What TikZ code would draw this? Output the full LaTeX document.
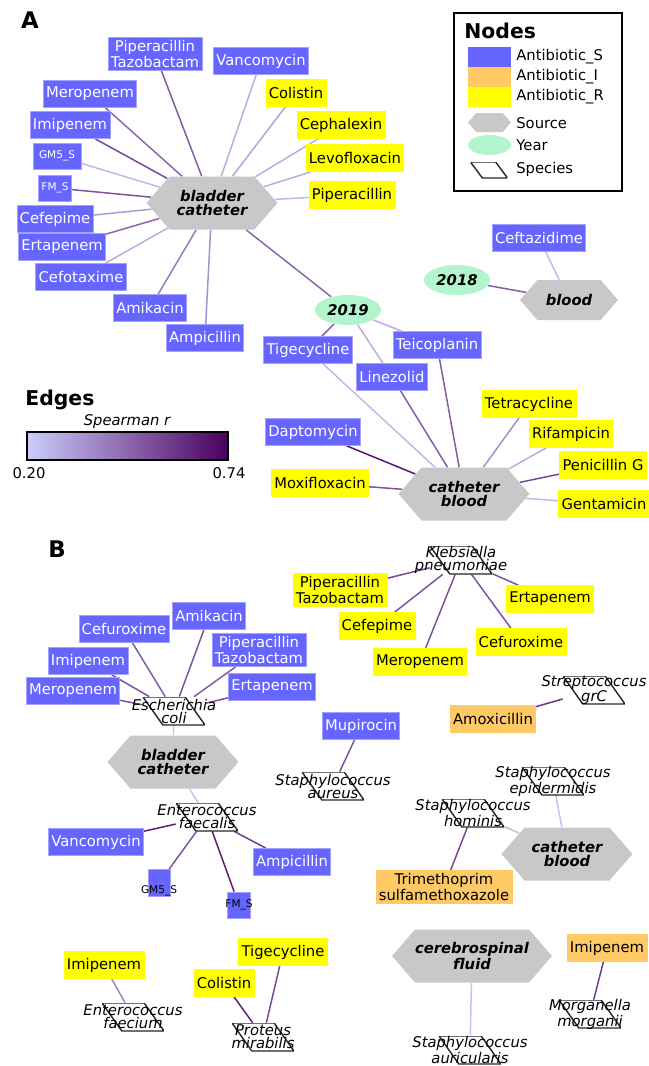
\documentclass[tikz,border=0pt]{standalone}
\usepackage{fontspec}
\setmainfont{DejaVu Sans}[ItalicFont={DejaVu Sans Oblique}, BoldItalicFont={DejaVu Sans Bold Oblique}]
\usepackage{tikz}
\usepackage{xcolor}
\usetikzlibrary{shapes.geometric, shapes.symbols, positioning, calc, backgrounds}
\definecolor{cSus}{RGB}{102,102,255}
\definecolor{cInt}{RGB}{255,201,102}
\definecolor{cRes}{RGB}{255,255,0}
\definecolor{cSrc}{RGB}{200,200,200}
\definecolor{cYear}{RGB}{178,245,204}
\definecolor{cLow}{RGB}{204,204,250}
\definecolor{cHigh}{RGB}{74,0,94}
\tikzset{
	abS/.style    ={rectangle, draw=cSus!60!white, line width=0.4pt, fill=cSus, text=white, minimum height=0.54cm, inner xsep=1.6pt, inner ysep=1.5pt, align=center, font=\fontsize{8.4}{7.4}\selectfont},
	abR/.style    ={abS, draw=cRes, fill=cRes, text=black},
	abI/.style    ={abS, draw=cInt, fill=cInt, text=black},
	abTiny/.style ={abS, minimum height=0.52cm, font=\fontsize{6}{6}\selectfont},
	src/.style    ={signal, signal to=east and west, signal pointer angle=98, fill=cSrc, minimum width=2.62cm, minimum height=1.06cm, inner sep=0pt, align=center, font=\bfseries\itshape\fontsize{8.4}{8}\selectfont},
	yr/.style     ={ellipse, fill=cYear, minimum width=1.32cm, minimum height=0.6cm, inner sep=0pt, font=\bfseries\itshape\fontsize{8.4}{8}\selectfont},
	% species: slanted box drawn inside a plain node
	spec/.style   ={rectangle, minimum width=1.24cm, minimum height=0.56cm, inner sep=0pt,
		path picture={\draw[draw=black!85, fill=white, line width=0.8pt]
			(path picture bounding box.north west)
			-- ($(path picture bounding box.north west)!0.68!(path picture bounding box.north east)$)
			-- (path picture bounding box.south east)
			-- ($(path picture bounding box.south west)!0.32!(path picture bounding box.south east)$) -- cycle;}},
	sptext/.style ={align=center, inner sep=0pt, font=\itshape\fontsize{8.4}{7.4}\selectfont},
	corr/.style   ={draw=cHigh!#1!cLow, line width=0.85pt},
	heading/.style={font=\bfseries\fontsize{11.6}{12}\selectfont, inner sep=0pt},
	keytext/.style={anchor=west, inner sep=0pt, font=\fontsize{8.4}{8}\selectfont},
}

\begin{document}
\begin{tikzpicture}[x=0.02cm, y=-0.02cm]
	\useasboundingbox (0,0) rectangle (649,1066);
	% panel A
	\node[heading, font=\bfseries\fontsize{13}{13}\selectfont] (labA) at (30,20) {A};
	\foreach \nm/\x/\y/\lab in {
		aPipTaz/155/54/{Piperacillin\\Tazobactam}, aVanco/261/61/Vancomycin,
		aMero/90/94/Meropenem, aImi/70/125/Imipenem, aCefep/55/219/Cefepime,
		aErta/62/247/Ertapenem, aCefot/81/277/Cefotaxime, aAmik/150/308/Amikacin,
		aAmpi/205/338/Ampicillin, aTige/308/350/Tigecycline, aTeico/437/345/Teicoplanin,
		aLine/392/377/Linezolid, aDapto/313/432/Daptomycin, aCefta/539/238/Ceftazidime}
		\node[abS] (\nm) at (\x,\y) {\lab};
	\node[abTiny, minimum width=0.96cm] (aGm) at (57,156) {GM5\_S};
	\node[abTiny, minimum width=0.66cm] (aFm) at (55,188) {FM\_S};
	\foreach \nm/\x/\y/\lab in {
		aColi/296/93/Colistin, aCeph/341/125/Cephalexin, aLevo/355/158/Levofloxacin,
		aPip/352/195/Piperacillin, aMoxi/320/483/Moxifloxacin, aTetra/529/404/Tetracycline,
		aRifa/571/434/Rifampicin, aPeni/603/465/Penicillin G, aGenta/604/504/Gentamicin}
		\node[abR] (\nm) at (\x,\y) {\lab};
	\node[src] (aBlad) at (212,203) {bladder\\catheter};
	\node[src] (aCath) at (464,494) {catheter\\blood};
	\node[src, minimum width=1.96cm, minimum height=0.8cm] (aBlood) at (569,300) {blood};
	\node[yr] (aY19) at (348,310) {2019};
	\node[yr] (aY18) at (457,280) {2018};

	% legend
	\node[draw, line width=1.1pt, minimum width=3.36cm, minimum height=3.56cm] (keyBox) at (538,102) {};
	\node[heading, anchor=west] (keyHead) at (464,31) {Nodes};
	\node[fill=cSus, minimum width=0.86cm, minimum height=0.4cm, inner sep=0pt] (keyS) at (489.5,57) {};
	\node[fill=cInt, minimum width=0.86cm, minimum height=0.4cm, inner sep=0pt] (keyI) at (489.5,77) {};
	\node[fill=cRes, minimum width=0.86cm, minimum height=0.4cm, inner sep=0pt] (keyR) at (489.5,97) {};
	\node[src, minimum width=0.86cm, minimum height=0.38cm] (keySrc) at (489.5,122.5) {};
	\node[yr, minimum width=0.86cm, minimum height=0.4cm] (keyYr) at (489.5,145) {};
	\node[spec, minimum width=0.74cm, minimum height=0.32cm] (keySp) at (489,170) {};
	\node[keytext] (keyTS) at (516,57) {Antibiotic\_S};
	\node[keytext] (keyTI) at (516,77) {Antibiotic\_I};
	\node[keytext] (keyTR) at (516,97) {Antibiotic\_R};
	\node[keytext] (keyTSrc) at (516,123) {Source};
	\node[keytext] (keyTYr) at (516,145) {Year};
	\node[keytext] (keyTSp) at (516,169) {Species};

	\node[heading, anchor=west] (edgeHead) at (25,400) {Edges};
	\node[keytext, anchor=center, font=\itshape\fontsize{8.4}{8}\selectfont] (cbTitle) at (127,422) {Spearman r};
	\node[draw, line width=1.1pt, left color=cLow, right color=cHigh, minimum width=4.02cm, minimum height=0.56cm, inner sep=0pt] (cbar) at (127.5,446) {};
	\node[keytext, anchor=center] (cbLo) at (29,473) {0.20};
	\node[keytext, anchor=center] (cbHi) at (229,473) {0.74};

	% panel B
	\node[heading, font=\bfseries\fontsize{13}{13}\selectfont] (labB) at (57,549) {B};
	\foreach \nm/\x/\y/\lab in {
		bAmik/209/616/Amikacin, bCefur/124/629/Cefuroxime, bPipTaz/259/650/{Piperacillin\\Tazobactam},
		bImi/88/661/Imipenem, bErta/272/687/Ertapenem, bMero/73/691/Meropenem,
		bVanco/96/842/Vancomycin, bAmpi/292/862/Ampicillin, bMupi/361/726/Mupirocin}
		\node[abS] (\nm) at (\x,\y) {\lab};
	\node[abS, minimum width=0.44cm, minimum height=0.54cm] (bGm) at (159,883) {};
	\node[abS, minimum width=0.46cm, minimum height=0.52cm] (bFm) at (239,905) {};
	\node[inner sep=0pt, font=\fontsize{6}{6}\selectfont] (bGmT) at (159,891) {GM5\_S};
	\node[inner sep=0pt, font=\fontsize{6}{6}\selectfont] (bFmT) at (239,905) {FM\_S};
	\foreach \nm/\x/\y/\lab in {
		bkPipTaz/340/590/{Piperacillin\\Tazobactam}, bkErta/550/599/Ertapenem,
		bkCefep/377/626/Cefepime, bkCefur/521/642/Cefuroxime, bkMero/420/662/Meropenem,
		bfImi/104/965/Imipenem, bpTige/283/952/Tigecycline, bpColi/224/983/Colistin}
		\node[abR] (\nm) at (\x,\y) {\lab};
	\foreach \nm/\x/\y/\lab in {
		bAmox/493/719/Amoxicillin, bTrim/444/887/{Trimethoprim\\sulfamethoxazole},
		bmImi/607/948/Imipenem}
		\node[abI] (\nm) at (\x,\y) {\lab};
	\node[src] (bBlad) at (173,762) {bladder\\catheter};
	\node[src] (bCath) at (567,854) {catheter\\blood};
	\node[src] (bCsf) at (472,956) {cerebrospinal\\fluid};
	\foreach \nm/\x/\y/\lab in {
		spEcoli/174/711/{Escherichia\\coli}, spEfaecalis/207/817/{Enterococcus\\faecalis},
		spKpneu/461/560/{Klebsiella\\pneumoniae}, spStrep/594/690/{Streptococcus\\grC},
		spSaur/333/786/{Staphylococcus\\aureus}, spSepi/553/781/{Staphylococcus\\epidermidis},
		spShom/473/813/{Staphylococcus\\hominis}, spEfaecium/133/1017/{Enterococcus\\faecium},
		spProt/263/1037/{Proteus\\mirabilis}, spMorg/590/1014/{Morganella\\morganii},
		spSaurc/470/1050/{Staphylococcus\\auricularis}} {
		\node[spec] (\nm) at (\x,\y) {};
		\node[sptext] (\nm T) at (\nm) {\lab};
	}

	\begin{scope}[on background layer]
		\foreach \a/\b/\w in {
			aBlad/aPipTaz/55, aBlad/aVanco/15, aBlad/aMero/50, aBlad/aImi/65, aBlad/aGm/10,
			aBlad/aFm/60, aBlad/aCefep/25, aBlad/aErta/50, aBlad/aCefot/15, aBlad/aAmik/40,
			aBlad/aAmpi/30, aBlad/aColi/20, aBlad/aCeph/15, aBlad/aLevo/15, aBlad/aPip/10,
			aBlad/aY19/50, aY19/aTige/50, aY19/aLine/15, aY19/aTeico/15,
			aCath/aTige/10, aCath/aLine/55, aCath/aTeico/55, aCath/aDapto/90, aCath/aMoxi/60,
			aCath/aTetra/30, aCath/aRifa/15, aCath/aPeni/65, aCath/aGenta/10,
			aBlood/aCefta/10, aBlood/aY18/55,
			spEcoli/bMero/60, spEcoli/bImi/60, spEcoli/bCefur/55, spEcoli/bAmik/60,
			spEcoli/bPipTaz/55, spEcoli/bErta/60, spEcoli/bBlad/3, bBlad/spEfaecalis/5,
			spEfaecalis/bVanco/85, spEfaecalis/bGm/60, spEfaecalis/bFm/85, spEfaecalis/bAmpi/70,
			spKpneu/bkPipTaz/65, spKpneu/bkCefep/60, spKpneu/bkMero/60, spKpneu/bkCefur/60,
			spKpneu/bkErta/60, spStrep/bAmox/75, spSaur/bMupi/60, bCath/spSepi/5,
			bCath/spShom/10, spShom/bTrim/65, spEfaecium/bfImi/35, spProt/bpColi/85,
			spProt/bpTige/65, bCsf/spSaurc/5, spMorg/bmImi/70}
			\draw[corr=\w] (\a) -- (\b);
	\end{scope}
\end{tikzpicture}
\end{document}
